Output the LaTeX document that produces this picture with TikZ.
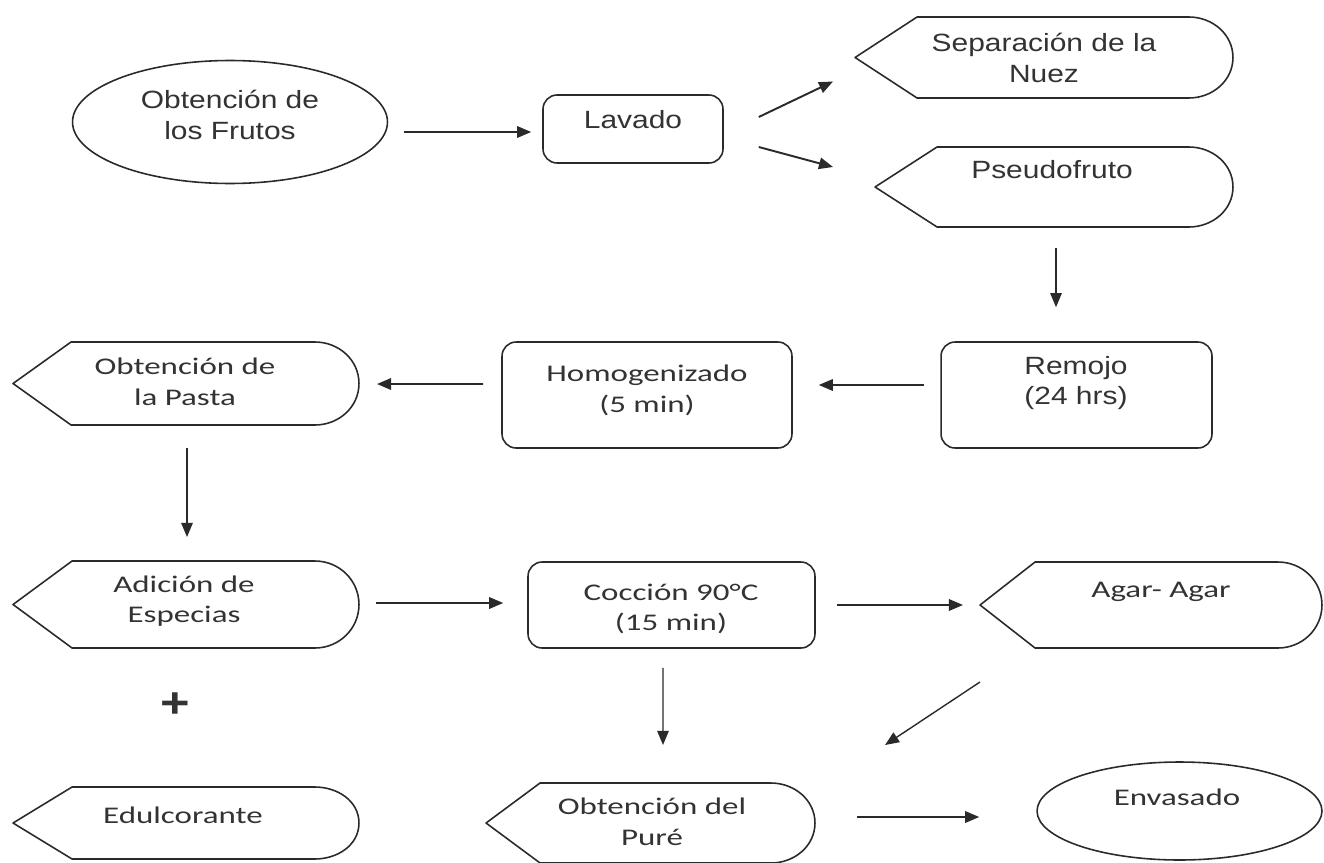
\documentclass[tikz,border=0pt]{standalone}
\usepackage{fontspec}
\usetikzlibrary{shapes.geometric,arrows.meta,calc}
\newfontfamily\arialtxt{Liberation Sans}[FakeStretch=1.2]
\newfontfamily\calibtxt{Carlito}[FakeStretch=1.38]
\definecolor{flowLine}{HTML}{2A2A2A}
\definecolor{flowText}{HTML}{333333}

% outline of the display symbol round a node: pointed left, round right
\newcommand{\dispframe}[2][58]{%
  \draw[frame] (#2.west) -- ($(#2.north west)+(#1,0)$)
    -- ($(#2.north east)+(-44,0)$) to[out=0,in=90] (#2.east)
    to[out=-90,in=0] ($(#2.south east)+(-44,0)$)
    -- ($(#2.south west)+(#1,0)$) -- cycle;}

\begin{document}
\begin{tikzpicture}[x=0.02cm, y=-0.02cm,
  frame/.style={draw=flowLine, line width=0.9pt, line join=round},
  procbox/.style={frame, rectangle, rounded corners=8pt, inner sep=0pt},
  oval/.style={frame, ellipse, inner sep=0pt},
  disp/.style={rectangle, inner sep=0pt, outer sep=0pt},
  txtA/.style={align=center, text=flowText, inner sep=0pt,
    font=\arialtxt\fontsize{14.2}{17.5}\selectfont},
  txtC/.style={align=center, text=flowText, inner sep=0pt,
    font=\calibtxt\fontsize{13.6}{17.5}\selectfont},
  flow/.style={draw=flowLine, line width=1.1pt,
    -{Triangle[length=8pt,width=6.5pt]}},
  flowthin/.style={flow, line width=0.8pt}]

\useasboundingbox (0,0) rectangle (1324,862);

% --- ROW 1 ---
\node[oval, minimum width=6.3cm, minimum height=2.46cm] (frutos) at (230,122) {};
\node[txtA] (frutos-t) at (230,115) {Obtención de\\los Frutos};

\node[procbox, minimum width=3.6cm, minimum height=1.36cm] (lavado) at (633,129) {};
\node[txtA] (lavado-t) at (633,120) {Lavado};

\node[disp, minimum width=7.56cm, minimum height=1.62cm] (separacion) at (1044,57.5) {};
\dispframe[62]{separacion}
\node[txtA] (separacion-t) at (1044,58) {Separación de la\\Nuez};

\node[disp, minimum width=7.16cm, minimum height=1.6cm] (pseudo) at (1054,187) {};
\dispframe[62]{pseudo}
\node[txtA] (pseudo-t) at (1052,170) {Pseudofruto};

% --- ROW 2 ---
\node[procbox, minimum width=5.42cm, minimum height=2.12cm] (remojo) at (1076.5,395) {};
\node[txtA] (remojo-t) at (1076,383) {Remojo\\(24 hrs)};

\node[procbox, minimum width=5.8cm, minimum height=2.12cm] (homog) at (647,395) {};
\node[txtC] (homog-t) at (647,390) {Homogenizado\\(5 min)};

\node[disp, minimum width=6.92cm, minimum height=1.66cm] (pasta) at (186,383.5) {};
\dispframe{pasta}
\node[txtC] (pasta-t) at (185,382) {Obtención de\\la Pasta};

% --- ROW 3 ---
\node[disp, minimum width=6.92cm, minimum height=1.74cm] (adicion) at (186,604.5) {};
\dispframe[59]{adicion}
\node[txtC] (adicion-t) at (184,601) {Adición de\\Especias};

\node[procbox, minimum width=5.74cm, minimum height=1.72cm] (coccion) at (671.5,605) {};
\node[txtC] (coccion-t) at (671,609) {Cocción 90°C\\(15 min)};

\node[disp, minimum width=6.84cm, minimum height=1.72cm] (agar) at (1151,605) {};
\dispframe[55]{agar}
\node[txtC] (agar-t) at (1161,592) {Agar- Agar};

\node[font=\arialtxt\bfseries\fontsize{24}{24}\selectfont, text=flowText,
  inner sep=0pt] (plus) at (175,705) {+};

% --- ROW 4 ---
\node[disp, minimum width=6.92cm, minimum height=1.44cm] (edulc) at (186,823) {};
\dispframe[59]{edulc}
\node[txtC] (edulc-t) at (183,815) {Edulcorante};

\node[disp, minimum width=6.58cm, minimum height=1.6cm] (pure) at (650.5,823) {};
\dispframe[54]{pure}
\node[txtC] (pure-t) at (652,822) {Obtención del\\Puré};

\node[oval, minimum width=5.7cm, minimum height=1.96cm] (envasado) at (1179.5,811) {};
\node[txtC] (envasado-t) at (1177,797) {Envasado};

% --- CONNECTORS ---
\draw[flow] ($(frutos.east)+(16,10)$) -- ($(lavado.west)+(-11,3)$);
\draw[flow] ($(lavado.east)+(35,-12)$) -- ($(separacion.west)+(-22,24)$);
\draw[flow] ($(lavado.east)+(35,18)$) -- ($(pseudo.west)+(-42,-20)$);
\draw[flowthin] ($(pseudo.south)+(2,21)$) -- ($(remojo.north)+(-20.5,-34)$);
\draw[flow] ($(remojo.west)+(-16,-10)$) -- ($(homog.east)+(26,-10)$);
\draw[flow] ($(homog.west)+(-18,-11)$) -- ($(pasta.east)+(18,0.5)$);
\draw[flowthin] ($(pasta.south)+(1,23)$) -- ($(adicion.north)+(1,-24)$);
\draw[flow] ($(adicion.east)+(17,-1.5)$) -- ($(coccion.west)+(-24,-2)$);
\draw[flow] ($(coccion.east)+(21,0)$) -- ($(agar.west)+(-17,0)$);
\draw[flowthin] ($(coccion.south)+(-8.5,19)$) -- ($(pure.north)+(12.5,-38)$);
\draw[flowthin] ($(agar.south)+(-171,34)$) -- ($(pure.north east)+(70,-38)$);
\draw[flow] ($(pure.east)+(42,-6)$) -- ($(envasado.west)+(-57,6)$);

\end{tikzpicture}
\end{document}
